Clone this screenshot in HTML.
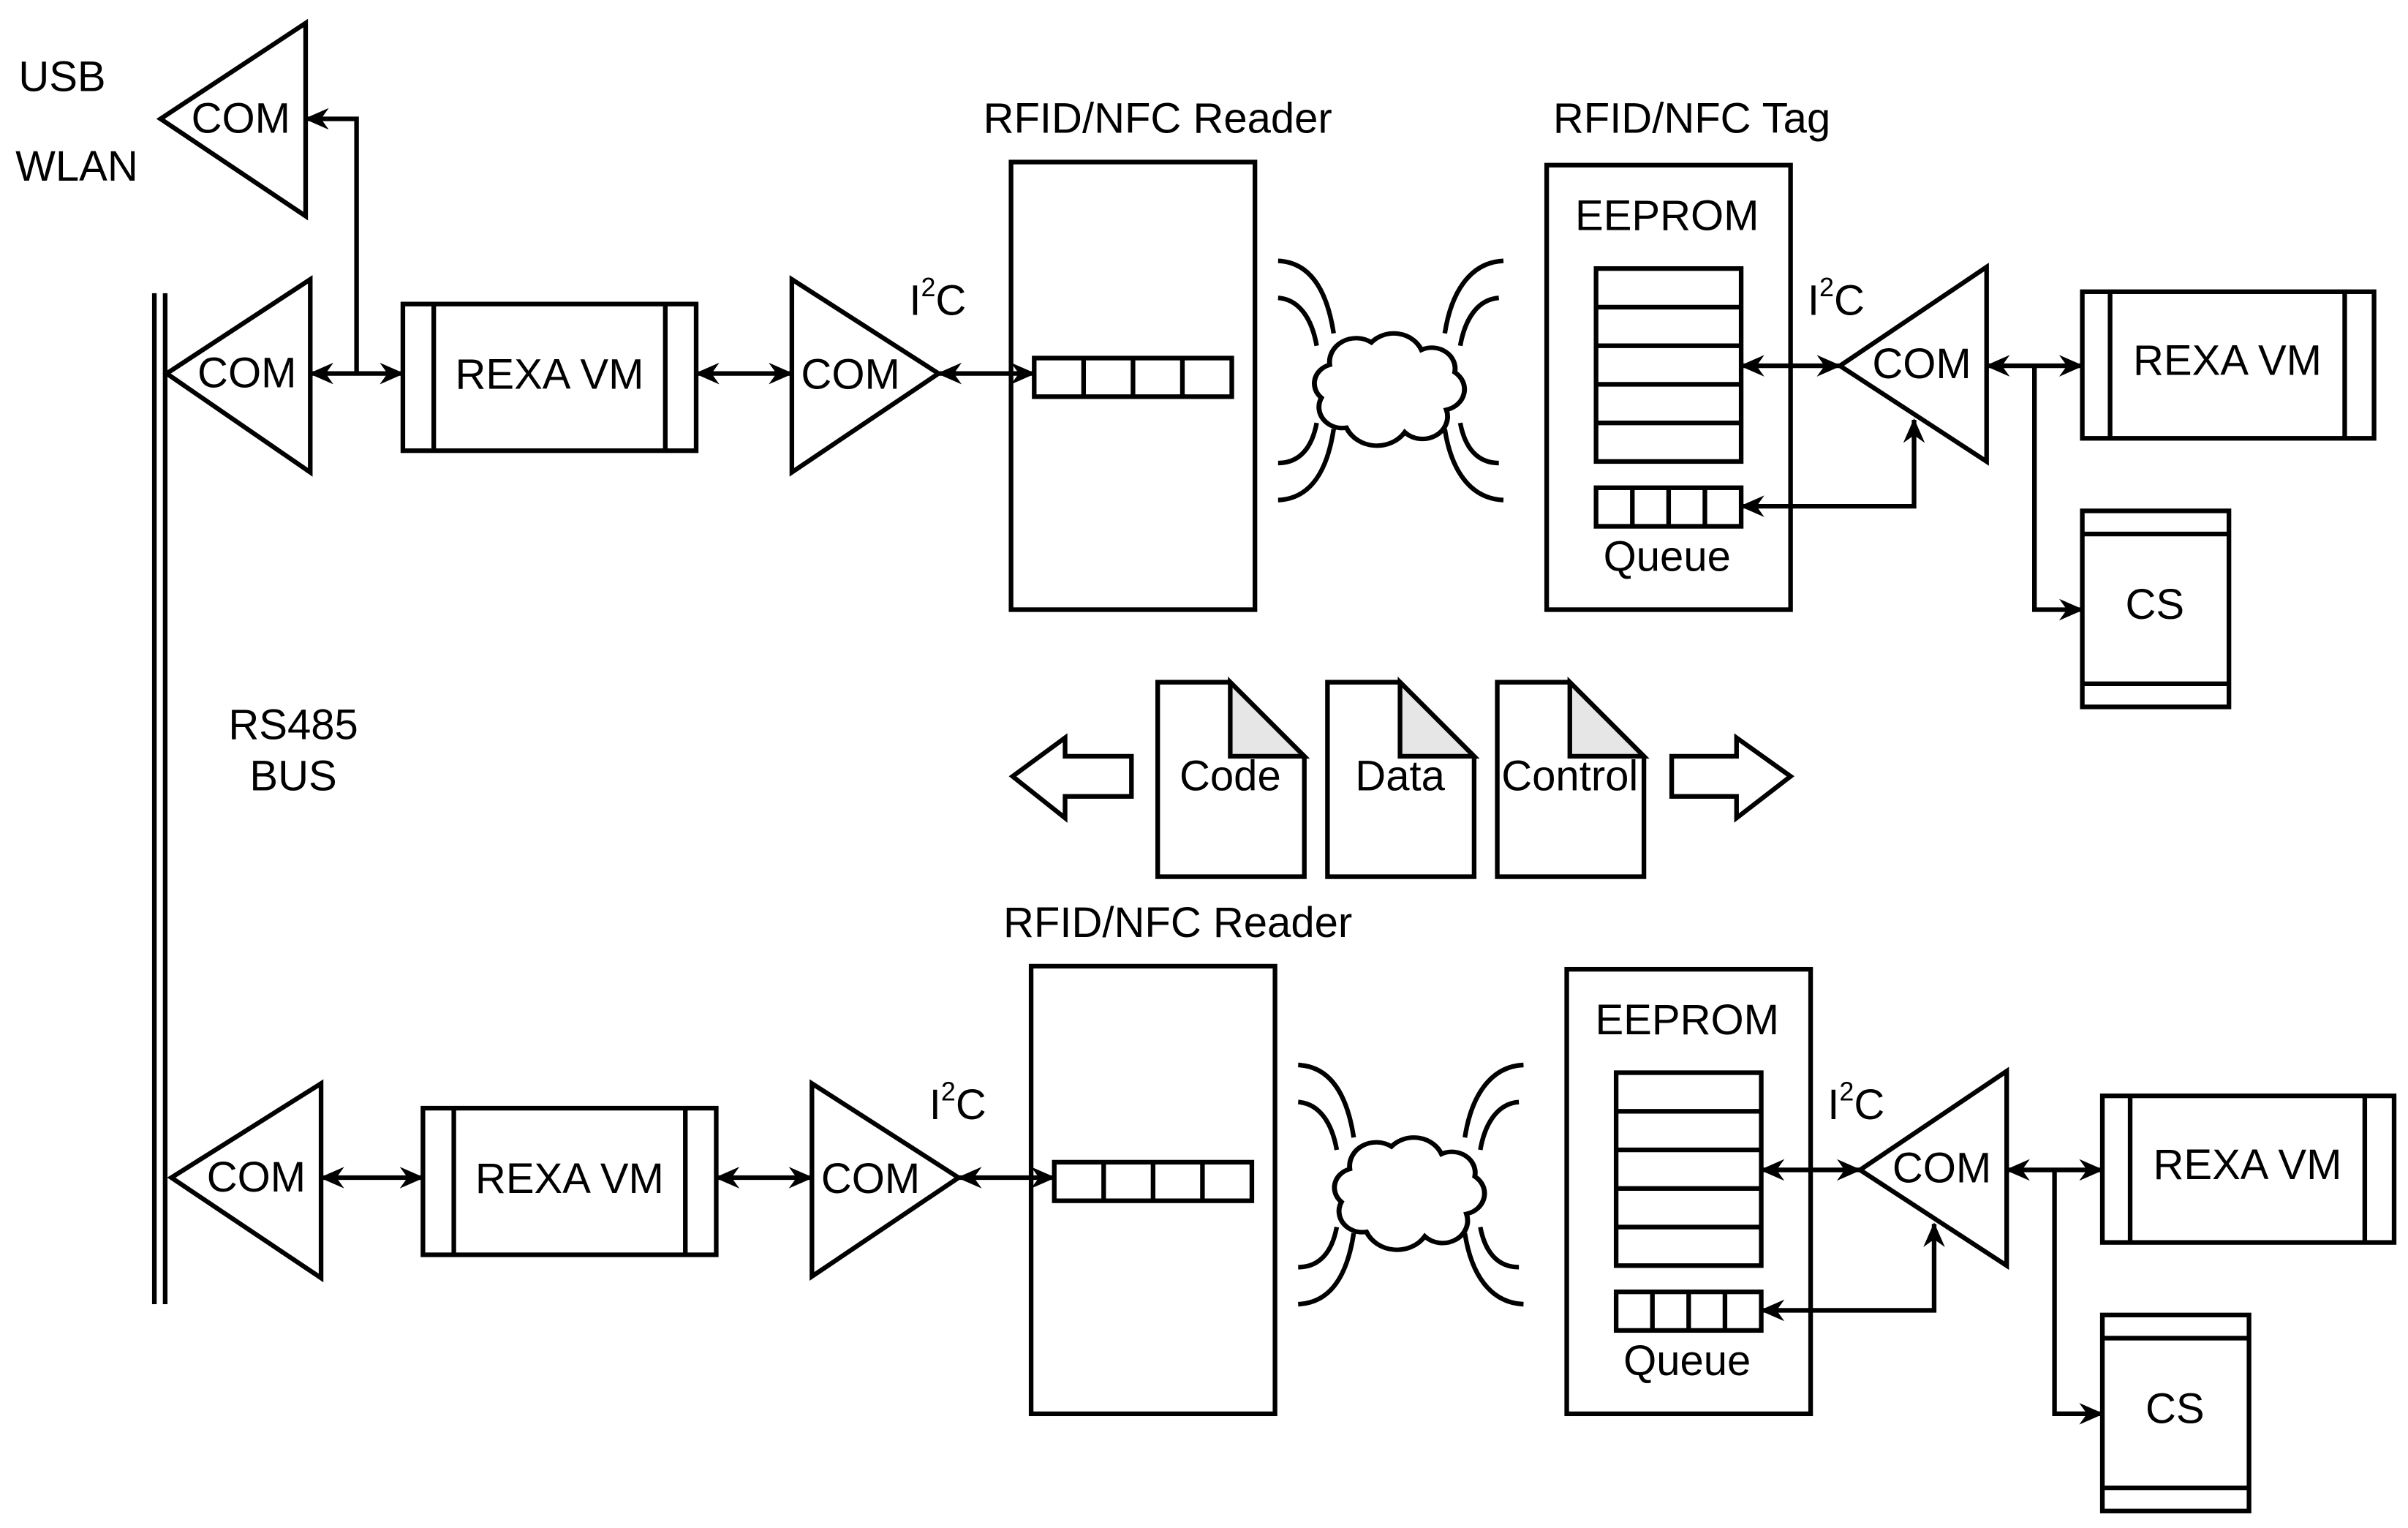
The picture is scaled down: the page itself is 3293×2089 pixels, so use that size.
<!DOCTYPE html>
<html><head><meta charset="utf-8"><style>
html,body{margin:0;padding:0;background:#fff;}
svg{display:block;}
text{font-family:"Liberation Sans Narrow","Liberation Sans",sans-serif;font-size:27.5px;fill:#000;}
</style></head><body>
<svg width="3293" height="2089" viewBox="0 0 1560 990" preserveAspectRatio="none" xmlns="http://www.w3.org/2000/svg">
<defs>
<marker id="a" markerUnits="userSpaceOnUse" markerWidth="16" markerHeight="14" refX="15" refY="7" orient="auto-start-reverse">
<path d="M0,0 L16,7 L0,14 L5,7 z" fill="#000"/>
</marker>
<g id="cloud">
<path d="M870,228 a16,16 0 0,1 25,-15 a18,18 0 0,1 30,5 a14,14 0 0,1 20,15 a14,14 0 0,1 -5,25 a15,15 0 0,1 -25,15 a20,20 0 0,1 -35,-3 a14,14 0 0,1 -15,-20 a13,13 0 0,1 5,-22 z" transform="translate(896,249) scale(1.08,0.97) translate(-902,-241)" fill="#fff" stroke="#000" stroke-width="3"/>
<g fill="none" stroke="#000" stroke-width="3">
<path d="M828,169 C850,170 860,190 864,216"/>
<path d="M828,193 C842,194 850,207 853,224"/>
<path d="M864,278 C860,304 850,323 828,324"/>
<path d="M853,274 C850,290 842,300 828,300"/>
<path d="M974,169 C952,170 940,190 936,216"/>
<path d="M971,193 C957,194 949,207 946,224"/>
<path d="M936,278 C940,304 952,323 974,324"/>
<path d="M946,274 C949,290 957,300 971,300"/>
</g>
</g>
<g id="row">
<g fill="none" stroke="#000" stroke-width="3">
<rect x="261" y="197" width="190" height="95"/>
<line x1="281" y1="197" x2="281" y2="292"/><line x1="431" y1="197" x2="431" y2="292"/>
<path d="M513,181 L608,242 L513,306 z"/>
<rect x="655" y="105" width="158" height="290"/>
<rect x="670" y="232" width="128" height="25"/>
<line x1="702" y1="232" x2="702" y2="257"/><line x1="734" y1="232" x2="734" y2="257"/><line x1="766" y1="232" x2="766" y2="257"/>
<rect x="1002" y="107" width="158" height="288"/>
<rect x="1034" y="174" width="94" height="125"/>
<line x1="1034" y1="199" x2="1128" y2="199"/><line x1="1034" y1="224" x2="1128" y2="224"/><line x1="1034" y1="249" x2="1128" y2="249"/><line x1="1034" y1="274" x2="1128" y2="274"/>
<rect x="1034" y="316" width="94" height="25"/>
<line x1="1057.5" y1="316" x2="1057.5" y2="341"/><line x1="1081" y1="316" x2="1081" y2="341"/><line x1="1104.5" y1="316" x2="1104.5" y2="341"/>
<path d="M1287,173 L1192,237 L1287,299 z"/>
<rect x="1349" y="189" width="189" height="95"/>
<line x1="1367" y1="189" x2="1367" y2="284"/><line x1="1519" y1="189" x2="1519" y2="284"/>
<rect x="1349" y="331" width="95" height="127"/>
<line x1="1349" y1="346" x2="1444" y2="346"/><line x1="1349" y1="443" x2="1444" y2="443"/>
<line x1="451" y1="242" x2="513" y2="242" marker-start="url(#a)" marker-end="url(#a)"/>
<line x1="608" y1="242" x2="670" y2="242" marker-start="url(#a)" marker-end="url(#a)"/>
<line x1="1128" y1="237" x2="1192" y2="237" marker-start="url(#a)" marker-end="url(#a)"/>
<path d="M1128,328 H1240 V272" marker-start="url(#a)" marker-end="url(#a)"/>
<line x1="1287" y1="237" x2="1349" y2="237" marker-start="url(#a)" marker-end="url(#a)"/>
<path d="M1318,237 V395 H1349" marker-end="url(#a)"/>
</g>
<use href="#cloud"/>
<text x="356" y="252" text-anchor="middle">REXA VM</text>
<text x="551" y="252" text-anchor="middle">COM</text>
<text x="589" y="204">I<tspan font-size="17" dy="-12">2</tspan><tspan dy="12">C</tspan></text>
<text x="1080" y="149" text-anchor="middle">EEPROM</text>
<text x="1080" y="370" text-anchor="middle">Queue</text>
<text x="1171" y="204">I<tspan font-size="17" dy="-12">2</tspan><tspan dy="12">C</tspan></text>
<text x="1245" y="245" text-anchor="middle">COM</text>
<text x="1443" y="243" text-anchor="middle">REXA VM</text>
<text x="1396" y="401" text-anchor="middle">CS</text>
</g>
</defs>

<use href="#row"/>
<text x="750" y="86" text-anchor="middle">RFID/NFC Reader</text>
<text x="1096" y="86" text-anchor="middle">RFID/NFC Tag</text>

<g transform="translate(13,521)"><use href="#row"/></g>
<text x="763" y="607" text-anchor="middle">RFID/NFC Reader</text>

<g fill="none" stroke="#000" stroke-width="3">
<line x1="100" y1="190" x2="100" y2="845"/>
<line x1="107" y1="190" x2="107" y2="845"/>
<path d="M198,15 L104,77 L198,140 z"/>
<path d="M201,181 L108,242 L201,306 z"/>
<line x1="201" y1="242" x2="261" y2="242" marker-start="url(#a)" marker-end="url(#a)"/>
<path d="M231,242 V77 H198" marker-end="url(#a)"/>
<path d="M208,702 L111,763 L208,828 z"/>
<line x1="208" y1="763" x2="274" y2="763" marker-start="url(#a)" marker-end="url(#a)"/>
<path d="M656,503 L690,478 V490 H733 V516 H690 V530 Z"/>
<path d="M1160,503 L1125,478 V490 H1083 V516 H1125 V530 Z"/>
<path d="M750,442 H797 L845,490 V568 H750 Z" fill="#fff"/>
<path d="M797,442 V490 H845 Z" fill="#e6e6e6"/>
<path d="M860,442 H907 L955,490 V568 H860 Z" fill="#fff"/>
<path d="M907,442 V490 H955 Z" fill="#e6e6e6"/>
<path d="M970,442 H1017 L1065,490 V568 H970 Z" fill="#fff"/>
<path d="M1017,442 V490 H1065 Z" fill="#e6e6e6"/>
</g>
<text x="156" y="86" text-anchor="middle">COM</text>
<text x="160" y="251" text-anchor="middle">COM</text>
<text x="166" y="772" text-anchor="middle">COM</text>
<text x="12" y="59">USB</text>
<text x="10" y="117">WLAN</text>
<text x="190" y="479" text-anchor="middle">RS485</text>
<text x="190" y="512" text-anchor="middle">BUS</text>
<text x="797" y="512" text-anchor="middle">Code</text>
<text x="907" y="512" text-anchor="middle">Data</text>
<text x="1017" y="512" text-anchor="middle">Control</text>
</svg>
</body></html>
